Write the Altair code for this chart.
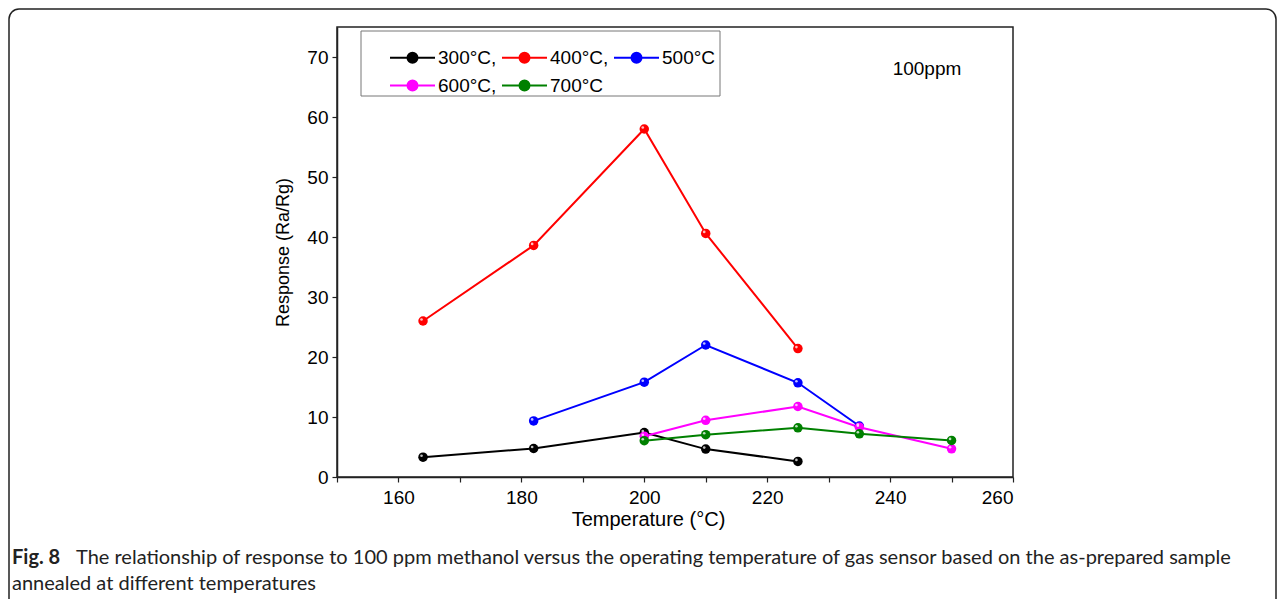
import altair as alt
import pandas as pd

# ---- data ----
series_labels = ["300°C,", "400°C,", "500°C", "600°C,", "700°C"]
series_colors = ["#000000", "#ff0000", "#0000ff", "#ff00ff", "#008000"]

temps_300 = [164, 182, 200, 210, 225]
resp_300 = [3.3, 4.75, 7.4, 4.65, 2.6]
temps_400 = [164, 182, 200, 210, 225]
resp_400 = [26.0, 38.6, 58.0, 40.6, 21.4]
temps_500 = [182, 200, 210, 225, 235]
resp_500 = [9.35, 15.8, 22.0, 15.7, 8.5]
temps_600 = [200, 210, 225, 235, 250]
resp_600 = [6.8, 9.45, 11.75, 8.3, 4.7]
temps_700 = [200, 210, 225, 235, 250]
resp_700 = [6.05, 7.05, 8.2, 7.2, 6.1]

x_ticks = [150, 160, 170, 180, 190, 200, 210, 220, 230, 240, 250, 260]
y_ticks = [0, 5, 10, 15, 20, 25, 30, 35, 40, 45, 50, 55, 60, 65, 70, 75]

caption_bold = "Fig. 8"
caption_line1 = ("The relationship of response to 100 ppm methanol versus the operating "
                 "temperature of gas sensor based on the as-prepared sample")
caption_line2 = "annealed at different temperatures"
annotation = "100ppm"

# ---- table ----
all_t = [temps_300, temps_400, temps_500, temps_600, temps_700]
all_r = [resp_300, resp_400, resp_500, resp_600, resp_700]
rows = []
for lab, ts, rs in zip(series_labels, all_t, all_r):
    for t, r in zip(ts, rs):
        rows.append({"series": lab, "temp": t, "resp": r})
df = pd.DataFrame(rows)

FONT = "Liberation Sans"
CAP_FONT = "Lato"
W, H = 676, 450

# line with a dot in the middle; unit = 5px (symbolSize 100)
sym_path = "M-4.5,0H-1M1,0H4.5M-1,0A1,1,0,1,1,1,0A1,1,0,1,1,-1,0Z"

xs = alt.X("temp:Q",
           scale=alt.Scale(domain=[150, 260], nice=False, zero=False),
           axis=alt.Axis(values=x_ticks, title="Temperature (°C)",
                         labelExpr="datum.value % 20 == 0 ? datum.label : ''",
                         grid=False, tickSize=5, labelPadding=6,
                         labelFontSize=19, titleFontSize=20,
                         titleX=311, titleY=32, titleFontWeight="normal"))
ys = alt.Y("resp:Q",
           scale=alt.Scale(domain=[0, 75], nice=False),
           axis=alt.Axis(values=y_ticks, title="Response (Ra/Rg)",
                         labelExpr="datum.value % 10 == 0 ? datum.label : ''",
                         grid=False, tickSize=5, labelPadding=4,
                         labelFontSize=19, titleFontSize=18, titlePadding=14,
                         titleFontWeight="normal"))
color = alt.Color("series:N",
                  scale=alt.Scale(domain=series_labels, range=series_colors),
                  sort=series_labels,
                  legend=alt.Legend(orient="none", legendX=66, legendY=21,
                                    columns=3, direction="horizontal", title=None,
                                    symbolType=sym_path, symbolSize=100,
                                    symbolStrokeWidth=2, labelOffset=16,
                                    labelFont=FONT, labelFontSize=19,
                                    labelColor="#000", columnPadding=1,
                                    rowPadding=8, padding=0))

base = alt.Chart(df)
lines = base.mark_line(strokeWidth=2).encode(x=xs, y=ys, color=color,
                                              detail="series:N")
points = base.mark_circle(size=90, opacity=1).encode(x="temp:Q", y="resp:Q",
                                                      color=alt.Color("series:N", sort=series_labels))
shine = base.mark_circle(size=7, opacity=0.75, color="white",
                         xOffset=-1.5, yOffset=-1.5).encode(x="temp:Q", y="resp:Q")

ann = alt.Chart(pd.DataFrame({"t": [annotation]})).mark_text(
    font=FONT, fontSize=19, align="center", baseline="middle", color="#000"
).encode(x=alt.datum(246), y=alt.datum(68), text="t:N")

cap_df = pd.DataFrame({"b": [caption_bold], "l1": [caption_line1], "l2": [caption_line2]})
cap_bold = alt.Chart(cap_df).mark_text(
    font=CAP_FONT, fontSize=20, fontWeight="bold", align="left",
    baseline="alphabetic", color="#222"
).encode(x=alt.value(12 - 337), y=alt.value(564 - 27), text="b:N")
cap_l1 = alt.Chart(cap_df).mark_text(
    font=CAP_FONT, fontSize=20, align="left",
    baseline="alphabetic", color="#222"
).encode(x=alt.value(76 - 337), y=alt.value(564 - 27), text="l1:N")
cap_l2 = alt.Chart(cap_df).mark_text(
    font=CAP_FONT, fontSize=20, align="left",
    baseline="alphabetic", color="#222"
).encode(x=alt.value(12 - 337), y=alt.value(590 - 27), text="l2:N")

border = alt.Chart(cap_df).mark_rect(
    fill=None, stroke="#222", strokeWidth=1.5, cornerRadius=10
).encode(x=alt.value(9 - 337), x2=alt.value(1276 - 337),
         y=alt.value(9 - 27), y2=alt.value(640 - 27))

legend_box = alt.Chart(cap_df).mark_rect(
    fill="white", stroke="#777", strokeWidth=1
).encode(x=alt.value(361 - 337), x2=alt.value(720 - 337),
         y=alt.value(31 - 27), y2=alt.value(96 - 27))

chart = alt.layer(border, legend_box, lines, points, shine, ann,
                  cap_bold, cap_l1, cap_l2).properties(
    width=W, height=H,
    autosize=alt.AutoSizeParams(type="none"),
    padding={"left": 337, "top": 27, "right": 271, "bottom": 122},
    background="white",
).configure_view(
    stroke="#222", strokeWidth=1.5
).configure_axis(
    domainColor="#222", domainWidth=1.5, tickColor="#222", tickWidth=1.2,
    labelFont=FONT, titleFont=FONT, labelColor="#000", titleColor="#000"
)

chart.save("out.html", embed_options={"renderer": "svg", "actions": False})
